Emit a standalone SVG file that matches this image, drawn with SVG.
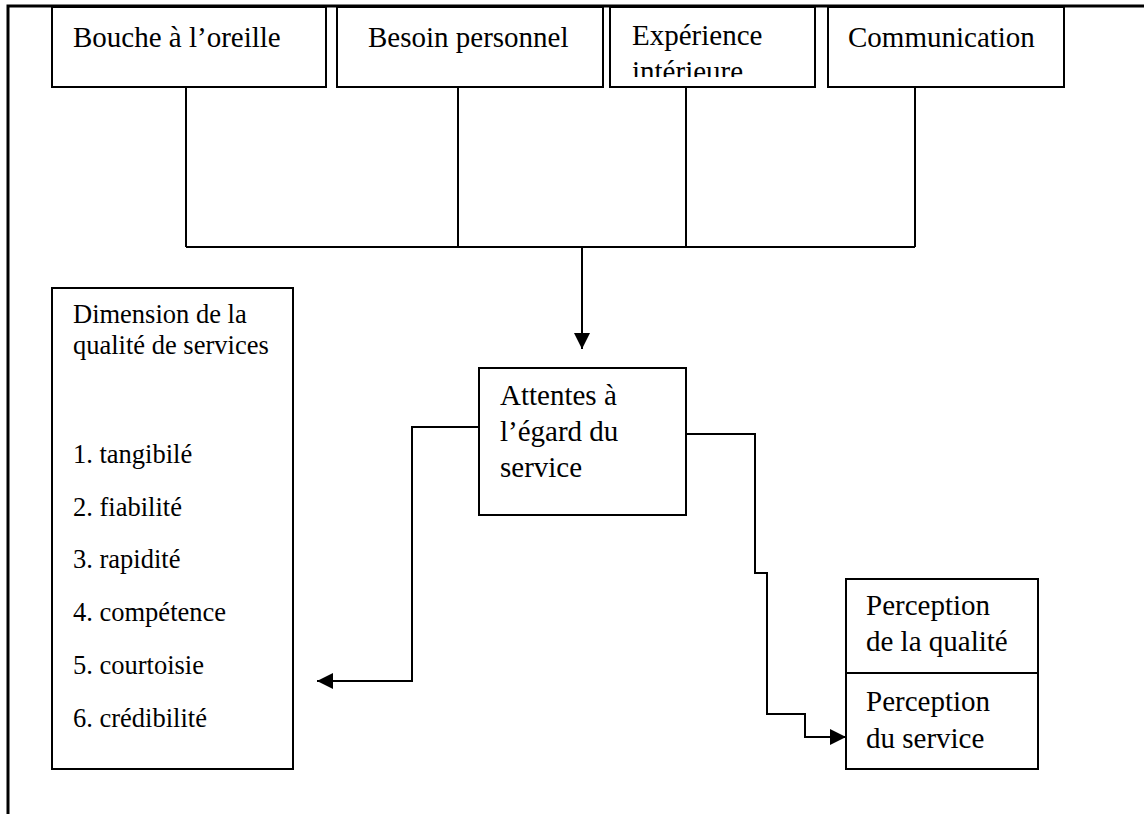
<svg xmlns="http://www.w3.org/2000/svg" width="1144" height="814" viewBox="0 0 1144 814">
  <style>
    .box { fill: #fff; stroke: #000; stroke-width: 2; }
    .frame { fill: none; stroke: #000; stroke-width: 3; }
    .wire { fill: none; stroke: #000; stroke-width: 2; }
    .lbl { font-family: "Liberation Serif", "Times New Roman", serif; font-size: 29px; fill: #000; }
    .lst { font-family: "Liberation Serif", "Times New Roman", serif; font-size: 26.5px; fill: #000; }
  </style>
  <defs>
    <marker id="arrow" viewBox="0 0 16 16" refX="16" refY="8" markerWidth="16" markerHeight="16" markerUnits="userSpaceOnUse" orient="auto">
      <path d="M0,0 L16,8 L0,16 Z" fill="#000"/>
    </marker>
    <clipPath id="clip-exp">
      <rect x="611" y="8" width="203" height="69"/>
    </clipPath>
  </defs>

  <rect width="1144" height="814" fill="#fff"/>

  <!-- page frame -->
  <g id="frame">
    <path class="frame" d="M8,814 V6 H1144"/>
  </g>

  <!-- connectors -->
  <g id="connectors">
    <path class="wire" d="M186,87 V247 M458,87 V247 M686,87 V247 M915,87 V247 M186,247 H915"/>
    <path class="wire" d="M582,247 V349" marker-end="url(#arrow)"/>
    <path class="wire" d="M479,427 H412 V681 H317" marker-end="url(#arrow)"/>
    <path class="wire" d="M686,434 H755 V573 H767 V714 H805 V737 H846" marker-end="url(#arrow)"/>
  </g>

  <g id="node-bouche">
    <rect class="box" x="52" y="7" width="274" height="80"/>
    <text class="lbl" x="73" y="47">Bouche à l’oreille</text>
  </g>

  <g id="node-besoin">
    <rect class="box" x="337" y="7" width="266" height="80"/>
    <text class="lbl" x="368" y="47">Besoin personnel</text>
  </g>

  <g id="node-experience">
    <rect class="box" x="610" y="7" width="205" height="80"/>
    <g clip-path="url(#clip-exp)">
      <text class="lbl" x="632" y="45">Expérience</text>
      <text class="lbl" x="632" y="81">intérieure</text>
    </g>
  </g>

  <g id="node-communication">
    <rect class="box" x="828" y="7" width="236" height="80"/>
    <text class="lbl" x="848" y="47">Communication</text>
  </g>

  <g id="node-dimension">
    <rect class="box" x="52" y="288" width="241" height="481"/>
    <text class="lst" x="73" y="323">Dimension de la</text>
    <text class="lst" x="73" y="354">qualité de services</text>
    <text class="lst" x="73" y="463">1. tangibilé</text>
    <text class="lst" x="73" y="516">2. fiabilité</text>
    <text class="lst" x="73" y="568">3. rapidité</text>
    <text class="lst" x="73" y="621">4. compétence</text>
    <text class="lst" x="73" y="674">5. courtoisie</text>
    <text class="lst" x="73" y="727">6. crédibilité</text>
  </g>

  <g id="node-attentes">
    <rect class="box" x="479" y="368" width="207" height="147"/>
    <text class="lbl" x="500" y="405">Attentes à</text>
    <text class="lbl" x="500" y="441">l’égard du</text>
    <text class="lbl" x="500" y="477">service</text>
  </g>

  <g id="node-perception">
    <rect class="box" x="846" y="579" width="192" height="190"/>
    <line x1="846" y1="673" x2="1038" y2="673" stroke="#000" stroke-width="2"/>
    <text class="lbl" x="866" y="615">Perception</text>
    <text class="lbl" x="866" y="651">de la qualité</text>
    <text class="lbl" x="866" y="711">Perception</text>
    <text class="lbl" x="866" y="748">du service</text>
  </g>
</svg>
